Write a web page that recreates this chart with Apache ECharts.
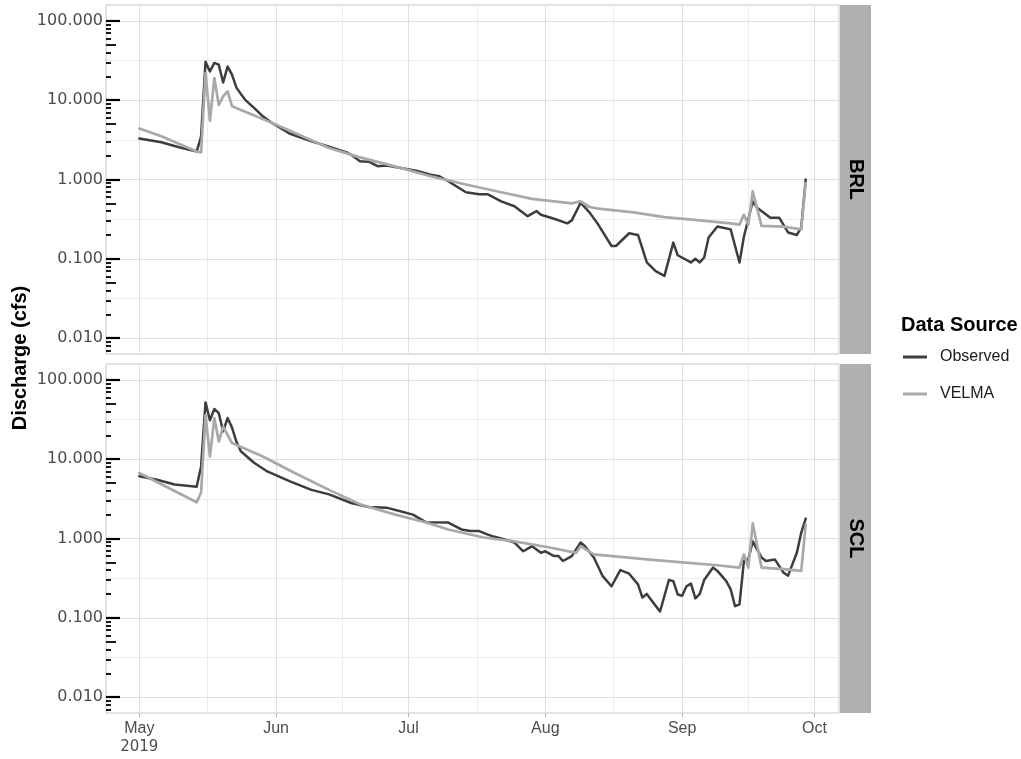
<!DOCTYPE html>
<html>
<head>
<meta charset="utf-8">
<script src="https://cdn.jsdelivr.net/npm/echarts@6/dist/echarts.min.js"></script>
<style>
  html, body { margin: 0; padding: 0; background: #ffffff; }
  #chart { width: 1021px; height: 759px; }
</style>
</head>
<body>
<div id="chart"></div>
<script>
// ---- Discharge (cfs), 2019 season ----
const brlObservedDates = ['2019-05-01','2019-05-06','2019-05-10','2019-05-14','2019-05-15','2019-05-16','2019-05-17','2019-05-18','2019-05-19','2019-05-20','2019-05-21','2019-05-22','2019-05-23','2019-05-24','2019-05-25','2019-05-26','2019-05-27','2019-05-29','2019-05-31','2019-06-04','2019-06-09','2019-06-13','2019-06-17','2019-06-18','2019-06-20','2019-06-22','2019-06-24','2019-06-26','2019-06-29','2019-07-03','2019-07-06','2019-07-08','2019-07-10','2019-07-14','2019-07-17','2019-07-19','2019-07-22','2019-07-25','2019-07-28','2019-07-30','2019-07-31','2019-08-03','2019-08-06','2019-08-07','2019-08-09','2019-08-11','2019-08-13','2019-08-16','2019-08-17','2019-08-20','2019-08-22','2019-08-24','2019-08-26','2019-08-28','2019-08-30','2019-08-31','2019-09-03','2019-09-04','2019-09-05','2019-09-06','2019-09-07','2019-09-09','2019-09-12','2019-09-14','2019-09-15','2019-09-17','2019-09-18','2019-09-21','2019-09-23','2019-09-25','2019-09-27','2019-09-28','2019-09-29'];
const brlObservedCfs = [3.28,2.95,2.55,2.25,3.5,30.5,23,29.5,28,16.7,26.5,21,14.4,12,10.1,9.0,8.0,6.25,5.2,3.8,3.03,2.6,2.2,2.05,1.7,1.68,1.47,1.5,1.41,1.28,1.15,1.1,0.95,0.69,0.65,0.65,0.53,0.46,0.345,0.40,0.36,0.32,0.28,0.305,0.51,0.385,0.27,0.145,0.145,0.21,0.20,0.09,0.07,0.061,0.16,0.111,0.09,0.10,0.09,0.104,0.186,0.256,0.235,0.09,0.19,0.53,0.44,0.33,0.33,0.215,0.20,0.25,1.0];

const brlVelmaDates = ['2019-05-01','2019-05-06','2019-05-14','2019-05-15','2019-05-16','2019-05-17','2019-05-18','2019-05-19','2019-05-20','2019-05-21','2019-05-22','2019-05-31','2019-06-13','2019-06-20','2019-06-29','2019-07-06','2019-07-14','2019-07-22','2019-07-29','2019-08-07','2019-08-09','2019-08-11','2019-08-13','2019-08-21','2019-08-28','2019-09-05','2019-09-12','2019-09-14','2019-09-15','2019-09-16','2019-09-17','2019-09-19','2019-09-24','2019-09-28','2019-09-29'];
const brlVelmaCfs = [4.4,3.5,2.25,2.2,22,5.5,19,8.7,11.2,12.9,8.4,5.2,2.5,1.9,1.41,1.1,0.865,0.69,0.57,0.5,0.53,0.45,0.43,0.385,0.336,0.305,0.28,0.27,0.36,0.27,0.71,0.26,0.255,0.235,0.9];

const sclObservedDates = ['2019-05-01','2019-05-05','2019-05-09','2019-05-14','2019-05-15','2019-05-16','2019-05-17','2019-05-18','2019-05-19','2019-05-20','2019-05-21','2019-05-22','2019-05-23','2019-05-24','2019-05-27','2019-05-30','2019-06-04','2019-06-09','2019-06-13','2019-06-18','2019-06-22','2019-06-26','2019-06-30','2019-07-02','2019-07-05','2019-07-10','2019-07-13','2019-07-15','2019-07-17','2019-07-19','2019-07-20','2019-07-22','2019-07-25','2019-07-27','2019-07-29','2019-07-31','2019-08-01','2019-08-03','2019-08-04','2019-08-05','2019-08-07','2019-08-09','2019-08-10','2019-08-12','2019-08-14','2019-08-16','2019-08-18','2019-08-20','2019-08-22','2019-08-23','2019-08-24','2019-08-25','2019-08-27','2019-08-29','2019-08-30','2019-08-31','2019-09-01','2019-09-02','2019-09-03','2019-09-04','2019-09-05','2019-09-06','2019-09-08','2019-09-09','2019-09-11','2019-09-12','2019-09-13','2019-09-14','2019-09-15','2019-09-16','2019-09-17','2019-09-19','2019-09-20','2019-09-22','2019-09-24','2019-09-25','2019-09-27','2019-09-28','2019-09-29'];
const sclObservedCfs = [6.1,5.5,4.8,4.5,8.1,52,31,43,38,22.4,33,25,16.7,12.6,9.0,7.0,5.3,4.1,3.6,2.8,2.5,2.45,2.14,2.0,1.6,1.59,1.3,1.24,1.24,1.12,1.07,1.0,0.89,0.69,0.80,0.66,0.69,0.6,0.6,0.52,0.6,0.89,0.8,0.575,0.335,0.25,0.40,0.36,0.264,0.18,0.20,0.168,0.12,0.30,0.29,0.197,0.19,0.25,0.27,0.176,0.20,0.30,0.43,0.39,0.29,0.228,0.14,0.148,0.52,0.545,0.92,0.575,0.52,0.545,0.37,0.34,0.66,1.19,1.78];

const sclVelmaDates = ['2019-05-01','2019-05-14','2019-05-15','2019-05-16','2019-05-17','2019-05-18','2019-05-19','2019-05-20','2019-05-22','2019-05-29','2019-06-05','2019-06-13','2019-06-20','2019-06-28','2019-07-05','2019-07-10','2019-07-18','2019-07-25','2019-08-02','2019-08-08','2019-08-09','2019-08-12','2019-08-24','2019-09-01','2019-09-09','2019-09-14','2019-09-15','2019-09-16','2019-09-17','2019-09-19','2019-09-24','2019-09-28','2019-09-29'];
const sclVelmaCfs = [6.7,2.86,3.8,36,10.8,33,16.7,25.8,16,10.8,6.8,4.1,2.7,2.0,1.59,1.3,1.03,0.92,0.77,0.66,0.80,0.63,0.545,0.50,0.46,0.43,0.63,0.43,1.55,0.43,0.41,0.39,1.5];

// Axis breaks and labels
const monthTicks = ['2019-05-01','2019-06-01','2019-07-01','2019-08-01','2019-09-01','2019-10-01'];
const monthNames = ['Jan','Feb','Mar','Apr','May','Jun','Jul','Aug','Sep','Oct','Nov','Dec'];
const decadeTicks = [0.01, 0.1, 1, 10, 100];
const stripLabels = ['BRL', 'SCL'];
const seriesNames = ['Observed', 'VELMA'];

// ---- helpers ----
function ts(s) {
  const p = s.split('-').map(Number);
  return Date.UTC(p[0], p[1] - 1, p[2]);
}
function pairs(dates, vals) {
  return dates.map((d, i) => [ts(d), vals[i]]);
}

const tStart = ts(brlObservedDates[0]);
const tEnd = ts(brlObservedDates[brlObservedDates.length - 1]);
const tPad = 0.05 * (tEnd - tStart);
const xMin = tStart - tPad, xMax = tEnd + tPad;

const monthTs = monthTicks.map(ts);
const midMonthTs = [];
for (let i = 0; i < monthTs.length - 1; i++) midMonthTs.push((monthTs[i] + monthTs[i + 1]) / 2);

const yMin = Math.pow(10, -2.2), yMax = Math.pow(10, 2.2);
const halfDecades = [-1.5, -0.5, 0.5, 1.5].map(e => Math.pow(10, e));
const fiveTicks = [], shortTicks = [];
for (let e = -3; e <= 2; e++) {
  for (let k = 2; k <= 9; k++) {
    const v = Number((k * Math.pow(10, e)).toPrecision(6));
    if (v < yMin || v > yMax) continue;
    (k === 5 ? fiveTicks : shortTicks).push(v);
  }
}

const LABEL_GREY = '#4d4d4d';
const OBS_COLOR = '#3d3d3d';
const VELMA_COLOR = '#a9a9a9';

const grids = [
  { left: 106, top: 5, width: 733, height: 349, show: true, borderColor: '#c6c6c6', borderWidth: 1, backgroundColor: '#fff' },
  { left: 106, top: 364, width: 733, height: 349, show: true, borderColor: '#c6c6c6', borderWidth: 1, backgroundColor: '#fff' }
];

const xAxes = [];
const yAxes = [];
grids.forEach((g, i) => {
  const bottomPanel = i === grids.length - 1;
  // months (date values in ms): major grid, ticks and labels
  xAxes.push({
    type: 'value', gridIndex: i, position: 'bottom', min: xMin, max: xMax,
    axisLine: { show: false },
    axisTick: { show: bottomPanel, customValues: monthTs, length: 4, lineStyle: { color: '#b3b3b3', width: 1 } },
    axisLabel: {
      show: bottomPanel, customValues: monthTs, margin: 6, color: LABEL_GREY,
      fontFamily: 'Liberation Sans', fontSize: 16, lineHeight: 19,
      formatter: function (v) {
        const d = new Date(v);
        const m = monthNames[d.getUTCMonth()];
        return v === monthTs[0] ? '{m|' + m + '}\n{y|' + d.getUTCFullYear() + '}' : '{m|' + m + '}';
      },
      rich: {
        m: { fontFamily: 'Liberation Sans', fontSize: 16, color: LABEL_GREY, lineHeight: 19 },
        y: { fontFamily: 'DejaVu Sans', fontSize: 15, color: LABEL_GREY, lineHeight: 19 }
      }
    },
    splitLine: { show: true, lineStyle: { color: '#dfdfdf', width: 1 } }
  });
  // mid-month minor grid
  xAxes.push({
    type: 'value', gridIndex: i, position: 'bottom', min: xMin, max: xMax,
    axisLine: { show: false },
    axisTick: { show: false, customValues: midMonthTs },
    axisLabel: { show: false },
    splitLine: { show: true, lineStyle: { color: '#ececec', width: 1 } }
  });

  const logBase = { type: 'log', logBase: 10, gridIndex: i, position: 'left', min: yMin, max: yMax, axisLine: { show: false } };
  // decades: labels, long log ticks, major grid
  yAxes.push(Object.assign({}, logBase, {
    axisTick: { show: true, inside: true, length: 14, customValues: decadeTicks, lineStyle: { color: '#000', width: 2.2 } },
    axisLabel: {
      customValues: decadeTicks, margin: 3, color: LABEL_GREY, fontFamily: 'DejaVu Sans', fontSize: 16,
      formatter: v => Number(v).toFixed(3)
    },
    splitLine: { show: true, lineStyle: { color: '#dfdfdf', width: 1 } }
  }));
  // 5 x decade: medium log ticks
  yAxes.push(Object.assign({}, logBase, {
    axisTick: { show: true, inside: true, length: 10, customValues: fiveTicks, lineStyle: { color: '#000', width: 1.8 } },
    axisLabel: { show: false }, splitLine: { show: false }
  }));
  // other multiples: short log ticks
  yAxes.push(Object.assign({}, logBase, {
    axisTick: { show: true, inside: true, length: 5, customValues: shortTicks, lineStyle: { color: '#000', width: 1.8 } },
    axisLabel: { show: false }, splitLine: { show: false }
  }));
  // half-decade minor grid
  yAxes.push(Object.assign({}, logBase, {
    axisTick: { show: false, customValues: halfDecades },
    axisLabel: { show: false },
    splitLine: { show: true, lineStyle: { color: '#ececec', width: 1 } }
  }));
});

function lineSeries(name, data, panel, color, width, z) {
  return {
    name: name, type: 'line', data: data,
    xAxisIndex: panel * 2, yAxisIndex: panel * 4,
    showSymbol: false, symbol: 'none', color: color, z: z,
    lineStyle: { color: color, width: width, join: 'round', cap: 'round' },
    emphasis: { disabled: true }
  };
}

const series = [
  lineSeries(seriesNames[0], pairs(brlObservedDates, brlObservedCfs), 0, OBS_COLOR, 2.5, 3),
  lineSeries(seriesNames[1], pairs(brlVelmaDates, brlVelmaCfs), 0, VELMA_COLOR, 2.7, 4),
  lineSeries(seriesNames[0], pairs(sclObservedDates, sclObservedCfs), 1, OBS_COLOR, 2.5, 3),
  lineSeries(seriesNames[1], pairs(sclVelmaDates, sclVelmaCfs), 1, VELMA_COLOR, 2.7, 4)
];

// facet strips on the right and the shared y title
const graphics = [];
grids.forEach((g, i) => {
  graphics.push({
    type: 'rect', x: g.left + g.width + 1, y: g.top,
    shape: { width: 31, height: g.height },
    style: { fill: '#b0b0b0' }, silent: true
  });
  graphics.push({
    type: 'text', x: g.left + g.width + 1 + 15.5, y: g.top + g.height / 2,
    rotation: -Math.PI / 2,
    style: { text: stripLabels[i], font: 'bold 20px "Liberation Sans"', fill: '#000', align: 'center', verticalAlign: 'middle' },
    silent: true
  });
});
graphics.push({
  type: 'text', x: 20, y: 358, rotation: Math.PI / 2,
  style: { text: 'Discharge (cfs)', font: 'bold 20px "Liberation Sans"', fill: '#000', align: 'center', verticalAlign: 'middle' },
  silent: true
});

const chart = echarts.init(document.getElementById('chart'), null, { renderer: 'canvas' });
chart.setOption({
  animation: false,
  backgroundColor: '#ffffff',
  title: {
    text: 'Data Source', left: 901, top: 315, padding: 0,
    textStyle: { fontFamily: 'Liberation Sans', fontSize: 20, fontWeight: 'bold', color: '#000' }
  },
  legend: {
    orient: 'vertical', left: 903, top: 348, padding: 0,
    itemWidth: 24, itemHeight: 3, itemGap: 19, icon: 'rect',
    selectedMode: false,
    data: seriesNames,
    textStyle: { fontFamily: 'Liberation Sans', fontSize: 16, color: '#1a1a1a', lineHeight: 18, padding: [0, 0, 0, 8] }
  },
  grid: grids,
  xAxis: xAxes,
  yAxis: yAxes,
  series: series,
  graphic: graphics
});
</script>
</body>
</html>
